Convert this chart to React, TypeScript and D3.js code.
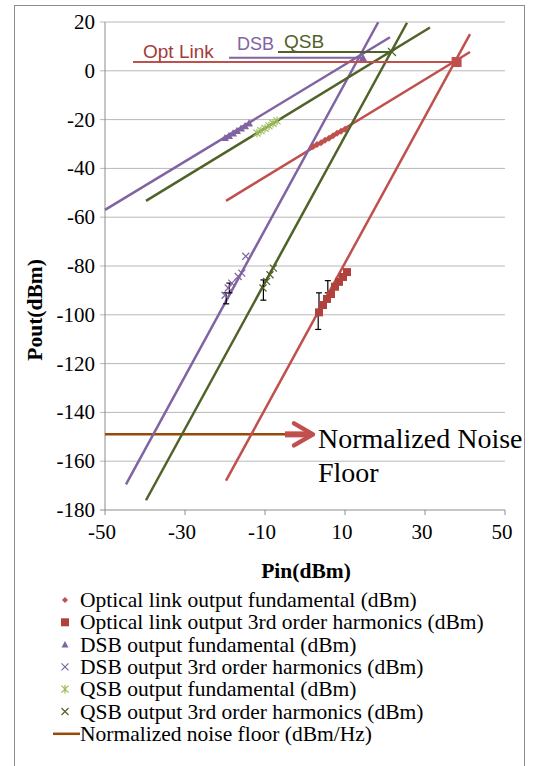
import React from "react";
import * as d3 from "d3";

// y ticks and x ticks
const yTicks = [20, 0, -20, -40, -60, -80, -100, -120, -140, -160, -180];
const xTicks = [-50, -30, -10, 10, 30, 50];

// measured points: [Pin, Pout]
const optFund = [[2, -31], [3, -30.2], [4, -29.5], [5, -28.5], [6, -27.6], [7, -26.6], [8, -25.6], [9, -24.8], [10, -24]];
const optThird = [[3.5, -99], [4.5, -96], [5.5, -93.5], [6.5, -91.5], [7.5, -88.5], [8.5, -86.5], [9.5, -84.5], [10.5, -82.5]];
const dsbFund = [[-20, -27.5], [-19, -26.6], [-18, -25.6], [-17, -24.6], [-16, -23.6], [-15, -22.6], [-14, -21.5]];
const dsbThird = [[-20, -92], [-19.2, -89], [-18.3, -87], [-16.7, -84.3], [-15.8, -82.9], [-14.8, -76]];
const qsbFund = [[-12, -25.5], [-11, -24.5], [-10, -23.6], [-9, -22.6], [-8, -21.5], [-7, -20.5]];
const qsbThird = [[-10.5, -89], [-9.6, -86.3], [-8.75, -83.6], [-7.9, -80.9]];

// error bars: [Pin, low, high]
const optErr = [[3.3, -106, -98], [3.5, -98, -91], [5.7, -91, -86]];
const dsbErr = [[-19.7, -95.5, -91], [-18.9, -91, -87]];
const qsbErr = [[-10.4, -94, -85.7]];

// fitted trend lines (endpoints)
const optFundLine = [[-19.75, -53.3], [41.25, 7.7]];
const optThirdLine = [[-19.75, -168], [41.25, 15]];
const dsbFundLine = [[-50, -57], [21.25, 13.75]];
const dsbThirdLine = [[-44.75, -169.5], [18.3, 19.9]];
const qsbFundLine = [[-39.75, -53.3], [31.25, 17.75]];
const qsbThirdLine = [[-39.75, -176], [25.5, 19.7]];

// intercept markers (horizontal lines to labels)
const optIntercept = [[-43, 3.6], [37.9, 3.6]];
const dsbIntercept = [[-19, 5.3], [14.5, 5.3]];
const qsbIntercept = [[-6.75, 7.7], [21.75, 7.7]];

const noiseFloor = [[-50, -149], [-3.75, -149]];
const noiseArrowTip = 2;

const legendItems = [
  "Optical link output fundamental (dBm)",
  "Optical link output 3rd order harmonics (dBm)",
  "DSB output fundamental (dBm)",
  "DSB output 3rd order harmonics (dBm)",
  "QSB output fundamental (dBm)",
  "QSB output 3rd order harmonics (dBm)",
  "Normalized noise floor (dBm/Hz)",
];

const RED = "#C0504D";
const DRED = "#B0423E";
const PURPLE = "#8064A2";
const OLIVE = "#4F6228";
const LGREEN = "#9BBB59";
const BROWN = "#984807";
const GRID = "#B8B8B8";
const SERIF = "'Liberation Serif', 'Times New Roman', serif";
const SANS = "'Liberation Sans', Arial, sans-serif";

const x = d3.scaleLinear().domain([-50, 50]).range([105, 505]);
const y = d3.scaleLinear().domain([-180, 20]).range([510, 22]);
const line = d3.line<number[]>().x((d) => x(d[0])).y((d) => y(d[1]));

const Diamond = ({ cx, cy, c, s = 3.5 }) => (
  <path d={`M${cx},${cy - s}L${cx + s},${cy}L${cx},${cy + s}L${cx - s},${cy}Z`} fill={c} />
);
const Square = ({ cx, cy, c, s = 4 }) => <rect x={cx - s} y={cy - s} width={2 * s} height={2 * s} fill={c} />;
const Tri = ({ cx, cy, c, s = 4 }) => (
  <path d={`M${cx},${cy - s}L${cx + s},${cy + s * 0.8}L${cx - s},${cy + s * 0.8}Z`} fill={c} />
);
const Cross = ({ cx, cy, c, s = 3.5 }) => (
  <path d={`M${cx - s},${cy - s}L${cx + s},${cy + s}M${cx + s},${cy - s}L${cx - s},${cy + s}`} stroke={c} strokeWidth={1.2} />
);
const Star = ({ cx, cy, c, s = 3.5 }) => (
  <path
    d={`M${cx - s},${cy - s}L${cx + s},${cy + s}M${cx + s},${cy - s}L${cx - s},${cy + s}M${cx},${cy - s * 1.2}L${cx},${cy + s * 1.2}`}
    stroke={c}
    strokeWidth={1.2}
  />
);

const ErrBar = ({ d }) => {
  const cx = x(d[0]);
  return (
    <g stroke="#000" strokeWidth={1.2}>
      <line x1={cx} x2={cx} y1={y(d[1])} y2={y(d[2])} />
      <line x1={cx - 3} x2={cx + 3} y1={y(d[1])} y2={y(d[1])} />
      <line x1={cx - 3} x2={cx + 3} y1={y(d[2])} y2={y(d[2])} />
    </g>
  );
};

export default function App() {
  const nfY = y(noiseFloor[0][1]);
  const arrowStart = x(noiseFloor[1][0]) - 5;
  const arrowEnd = x(noiseArrowTip);
  return (
    <svg width={546} height={766} style={{ position: "absolute", left: 0, top: 0, background: "#fff" }}>
      <rect x={14.5} y={5.5} width={510} height={800} fill="#fff" stroke="#8C8C8C" />

      {/* grid + y axis */}
      {yTicks.map((t) => (
        <g key={t}>
          <line x1={100} x2={505} y1={y(t)} y2={y(t)} stroke={t === -180 ? "#8C8C8C" : GRID} strokeWidth={1} />
          <text x={95} y={y(t) + 7} textAnchor="end" fontFamily={SERIF} fontSize={21}>
            {t}
          </text>
        </g>
      ))}
      <line x1={x(-50)} x2={x(-50)} y1={y(20)} y2={y(-180)} stroke="#8C8C8C" />
      {xTicks.map((t) => (
        <g key={t}>
          <line x1={x(t)} x2={x(t)} y1={y(-180)} y2={y(-180) + 5} stroke="#8C8C8C" />
          <text x={x(t) - 3} y={y(-180) + 29} textAnchor="middle" fontFamily={SERIF} fontSize={21}>
            {t}
          </text>
        </g>
      ))}
      <text x={306} y={578} textAnchor="middle" fontFamily={SERIF} fontSize={21.5} fontWeight="bold">
        Pin(dBm)
      </text>
      <text
        transform={`translate(42,${y(-98)}) rotate(-90)`}
        textAnchor="middle"
        fontFamily={SERIF}
        fontSize={21.5}
        fontWeight="bold"
      >
        Pout(dBm)
      </text>

      {/* noise floor */}
      <path d={line(noiseFloor) ?? ""} stroke={BROWN} strokeWidth={2.5} fill="none" />
      <line x1={arrowStart} x2={arrowEnd - 3} y1={nfY} y2={nfY} stroke={RED} strokeWidth={6} />
      <path
        d={`M${arrowEnd - 19},${nfY - 11}L${arrowEnd},${nfY}L${arrowEnd - 19},${nfY + 11}`}
        stroke={RED}
        strokeWidth={4.5}
        fill="none"
        strokeLinecap="round"
        strokeLinejoin="round"
      />
      <text x={318} y={448} fontFamily={SERIF} fontSize={28}>
        Normalized Noise
      </text>
      <text x={318} y={482} fontFamily={SERIF} fontSize={28}>
        Floor
      </text>

      {/* trend lines */}
      <path d={line(optFundLine) ?? ""} stroke={RED} strokeWidth={2.5} fill="none" />
      <path d={line(optThirdLine) ?? ""} stroke={RED} strokeWidth={2.5} fill="none" />
      <path d={line(dsbFundLine) ?? ""} stroke={PURPLE} strokeWidth={2.5} fill="none" />
      <path d={line(dsbThirdLine) ?? ""} stroke={PURPLE} strokeWidth={2.5} fill="none" />
      <path d={line(qsbFundLine) ?? ""} stroke={OLIVE} strokeWidth={2.5} fill="none" />
      <path d={line(qsbThirdLine) ?? ""} stroke={OLIVE} strokeWidth={2.5} fill="none" />

      {/* intercepts */}
      <path d={line(optIntercept) ?? ""} stroke={RED} strokeWidth={2} fill="none" />
      <path d={line(dsbIntercept) ?? ""} stroke={PURPLE} strokeWidth={2} fill="none" />
      <path d={line(qsbIntercept) ?? ""} stroke={OLIVE} strokeWidth={2} fill="none" />
      <Square cx={x(optIntercept[1][0])} cy={y(optIntercept[1][1])} c={RED} s={5} />
      <Tri cx={x(dsbIntercept[1][0])} cy={y(dsbIntercept[1][1])} c={PURPLE} s={4} />
      <Cross cx={x(qsbIntercept[1][0])} cy={y(qsbIntercept[1][1])} c={OLIVE} s={4} />
      <text x={143} y={58} fontFamily={SANS} fontSize={19} fill="#A33B39">
        Opt Link
      </text>
      <text x={237} y={50} fontFamily={SANS} fontSize={18} fill={PURPLE}>
        DSB
      </text>
      <text x={284} y={48} fontFamily={SANS} fontSize={19} fill={OLIVE}>
        QSB
      </text>

      {/* error bars */}
      {[...optErr, ...dsbErr, ...qsbErr].map((d, i) => (
        <ErrBar key={i} d={d} />
      ))}

      {/* markers */}
      {optFund.map((d, i) => (
        <Diamond key={i} cx={x(d[0])} cy={y(d[1])} c={RED} />
      ))}
      {optThird.map((d, i) => (
        <Square key={i} cx={x(d[0])} cy={y(d[1])} c={DRED} />
      ))}
      {dsbFund.map((d, i) => (
        <Tri key={i} cx={x(d[0])} cy={y(d[1])} c={PURPLE} />
      ))}
      {dsbThird.map((d, i) => (
        <Cross key={i} cx={x(d[0])} cy={y(d[1])} c={PURPLE} />
      ))}
      {qsbFund.map((d, i) => (
        <Star key={i} cx={x(d[0])} cy={y(d[1])} c={LGREEN} />
      ))}
      {qsbThird.map((d, i) => (
        <Cross key={i} cx={x(d[0])} cy={y(d[1])} c={OLIVE} />
      ))}

      {/* legend */}
      {legendItems.map((label, i) => {
        const by = 607 + i * 22.3;
        const my = by - 7;
        const marks = [
          <Diamond cx={65} cy={my} c={RED} s={3} />,
          <Square cx={65} cy={my} c={DRED} s={4} />,
          <Tri cx={65} cy={my} c={PURPLE} s={3.5} />,
          <Cross cx={65} cy={my} c={PURPLE} s={3.5} />,
          <Star cx={65} cy={my} c={LGREEN} s={3.5} />,
          <Cross cx={65} cy={my} c={OLIVE} s={3.5} />,
          <line x1={53} x2={80} y1={my} y2={my} stroke={BROWN} strokeWidth={2.5} />,
        ];
        return (
          <g key={label}>
            {marks[i]}
            <text x={80} y={by} fontFamily={SERIF} fontSize={21.5}>
              {label}
            </text>
          </g>
        );
      })}
    </svg>
  );
}
